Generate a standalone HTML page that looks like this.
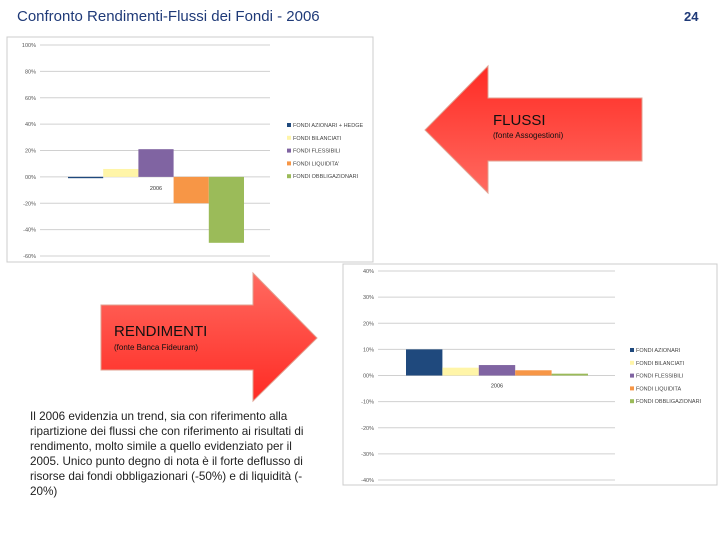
<!DOCTYPE html>
<html><head><meta charset="utf-8"><style>
body{margin:0;width:720px;height:540px;background:#fff;overflow:hidden;font-family:"Liberation Sans",sans-serif}
svg{position:absolute;left:0;top:0}
</style></head><body>
<svg width="720" height="540">
<defs>
<linearGradient id="gr" x1="0" y1="0" x2="0" y2="1"><stop offset="0" stop-color="#ff2b24"/><stop offset="1" stop-color="#ff6a60"/></linearGradient>
<linearGradient id="gr2" x1="0" y1="0" x2="0" y2="1"><stop offset="0" stop-color="#ff6a60"/><stop offset="1" stop-color="#ff2b24"/></linearGradient>
</defs>
<text x="17" y="21" font-size="15" fill="#1f3a78">Confronto Rendimenti-Flussi dei Fondi - 2006</text>
<text x="684" y="21" font-size="13" font-weight="bold" fill="#1f3a78">24</text>
<rect x="7" y="37" width="366" height="225" fill="#fff" stroke="#ccc"/>
<rect x="343" y="264" width="374" height="221" fill="#fff" stroke="#ccc"/>
<g id="c1"></g><g id="c2"></g>
<path d="M425,130 L488,66 L488,98 L642,98 L642,161 L488,161 L488,193 Z" fill="url(#gr)" stroke="#e0a090"/>
<text x="493" y="125" font-size="15" fill="#111">FLUSSI</text>
<text x="493" y="138" font-size="8" fill="#111">(fonte Assogestioni)</text>
<path d="M101,305 L253,305 L253,273 L317,338 L253,401 L253,370 L101,370 Z" fill="url(#gr2)" stroke="#e0a090"/>
<text x="114" y="336" font-size="15" fill="#111">RENDIMENTI</text>
<text x="114" y="350" font-size="8" fill="#111">(fonte Banca Fideuram)</text>
<g font-size="11.7" fill="#222">
<text x="30" y="420">Il 2006 evidenzia un trend, sia con riferimento alla</text>
<text x="30" y="435">ripartizione dei flussi che con riferimento ai risultati di</text>
<text x="30" y="450">rendimento, molto simile a quello evidenziato per il</text>
<text x="30" y="465">2005. Unico punto degno di nota è il forte deflusso di</text>
<text x="30" y="480">risorse dai fondi obbligazionari (-50%) e di liquidità (-</text>
<text x="30" y="495">20%)</text>
</g>
</svg>
<script>
const colors=['#1f497d','#fff5a8','#8064a2','#f79646','#9bbb59'];
const c1Names=['FONDI AZIONARI + HEDGE','FONDI BILANCIATI','FONDI FLESSIBILI','FONDI LIQUIDITA\'','FONDI OBBLIGAZIONARI'];
const c1Values=[-1,6,21,-20,-50];
const c1Ticks=[100,80,60,40,20,0,-20,-40,-60];
const c2Names=['FONDI AZIONARI','FONDI BILANCIATI','FONDI FLESSIBILI','FONDI LIQUIDITA','FONDI OBBLIGAZIONARI'];
const c2Values=[10,3,4,2,0.7];
const c2Ticks=[40,30,20,10,0,-10,-20,-30,-40];
const NS='http://www.w3.org/2000/svg';
function mk(p,t,a){const e=document.createElementNS(NS,t);for(const k in a)e.setAttribute(k,a[k]);p.appendChild(e);return e;}
function draw(g,o){
 const y=v=>o.y0+(o.vmax-v)/(o.vmax-o.vmin)*(o.y1-o.y0);
 o.ticks.forEach(t=>{
  const l=mk(g,'line',{x1:o.px0,x2:o.px1,y1:y(t),y2:y(t),stroke:'#d0d0d0'});
  
  
  const tx=mk(g,'text',{x:o.px0-4,y:y(t)+2,'font-size':5.5,'text-anchor':'end',fill:'#555'});
  tx.textContent=String(t).padStart(t<0?3:2,'0')+'%';
  
  
 });
 const n=o.values.length;
 o.values.forEach((v,i)=>{
  const x=o.bx0+i*(o.bx1-o.bx0)/n;
  const r=mk(g,'rect',{x:x,width:(o.bx1-o.bx0)/n,y:Math.min(y(v),y(0)),height:Math.abs(y(v)-y(0)),fill:colors[i]});
  
  
  const ly=o.ly+i*12.8;
  const sq=mk(g,'rect',{x:o.lx,y:ly-4,width:4,height:4,fill:colors[i]});
  
  
  const lt=mk(g,'text',{x:o.lx+6,y:ly,'font-size':5.5,fill:'#444'});
  lt.textContent=o.names[i];
  
  
 });
 const c=mk(g,'text',{x:(o.bx0+o.bx1)/2,y:y(0)+o.catOff,'font-size':5.5,'text-anchor':'middle',fill:'#333'});
 c.textContent='2006';
 
 
}
draw(document.getElementById('c1'),{values:c1Values,names:c1Names,ticks:c1Ticks,vmax:100,vmin:-60,y0:45,y1:256,px0:40,px1:270,bx0:68,bx1:244,lx:287,ly:127,catOff:13});
draw(document.getElementById('c2'),{values:c2Values,names:c2Names,ticks:c2Ticks,vmax:40,vmin:-40,y0:271,y1:480,px0:378,px1:615,bx0:406,bx1:588,lx:630,ly:352,catOff:12});
</script>
</body></html>
